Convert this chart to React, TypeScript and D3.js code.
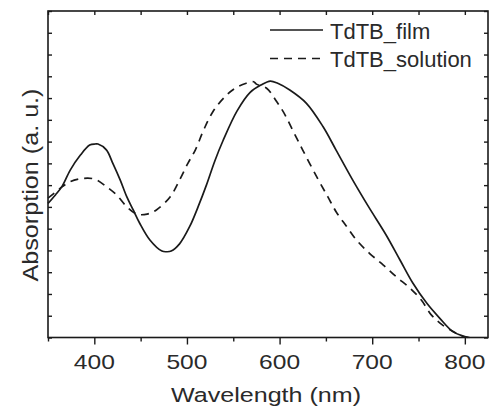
import React, { useRef, useEffect } from "react";
import * as d3 from "d3";

// TdTB_film (solid)
const filmWl = [350, 358, 365, 374, 385, 395, 401, 404, 413, 420, 428, 435, 442, 449, 460, 473, 478, 483, 492, 503, 512, 521, 530, 539, 554, 568, 580, 590, 598, 611, 629, 647, 661, 679, 696, 715, 730, 744, 759, 773, 787, 798, 805];
const filmAbs = [0.616, 0.655, 0.693, 0.769, 0.838, 0.884, 0.889, 0.889, 0.862, 0.8, 0.723, 0.647, 0.586, 0.525, 0.448, 0.397, 0.394, 0.397, 0.43, 0.51, 0.6, 0.7, 0.81, 0.905, 1.04, 1.125, 1.16, 1.178, 1.168, 1.137, 1.076, 0.968, 0.861, 0.723, 0.601, 0.471, 0.356, 0.249, 0.157, 0.088, 0.027, 0.007, 0];

// TdTB_solution (dashed)
const solWl = [350, 352, 363, 374, 388, 401, 413, 424, 435, 446, 457, 467, 482, 492, 501, 509, 518, 528, 541, 552, 564, 572, 575, 586, 597, 606, 615, 625, 640, 652, 661, 672, 683, 697, 712, 726, 741, 753, 764, 776, 791, 797, 803];
const solAbs = [0.641, 0.647, 0.685, 0.716, 0.731, 0.727, 0.693, 0.655, 0.601, 0.567, 0.567, 0.586, 0.647, 0.723, 0.8, 0.861, 0.953, 1.037, 1.106, 1.145, 1.168, 1.175, 1.164, 1.145, 1.083, 1.022, 0.945, 0.861, 0.739, 0.647, 0.578, 0.512, 0.448, 0.387, 0.333, 0.279, 0.226, 0.172, 0.103, 0.057, 0.019, 0.007, 0];

const xMajor = [400, 500, 600, 700, 800];
const xMinor = [350, 450, 550, 650, 750];
const xAll = [350, 400, 450, 500, 550, 600, 650, 700, 750, 800];
const yTicks = d3.range(0, 1.51, 0.1);

const legendItems = [
  { label: "TdTB_film", dash: "none" },
  { label: "TdTB_solution", dash: "8,6" },
];

const W = 489;
const H = 407;
const FONT = "'Liberation Sans', Arial, Helvetica, sans-serif";

export default function App() {
  const svgRef = useRef<SVGSVGElement | null>(null);

  useEffect(() => {
    if (!svgRef.current) return;
    const svg = d3.select(svgRef.current);
    svg.selectAll("*").remove();

    const left = 48;
    const right = 488;
    const top = 11;
    const bottom = 337.5;

    const x = d3.scaleLinear().domain([350, 825]).range([left, right]);
    const y = d3.scaleLinear().domain([0, 1.5]).range([bottom, top]);

    // frame
    svg
      .append("rect")
      .attr("x", left)
      .attr("y", top)
      .attr("width", right - left)
      .attr("height", bottom - top)
      .attr("fill", "none")
      .attr("stroke", "#1a1a1a")
      .attr("stroke-width", 1.6);

    const styleAxis = (g: any) => {
      g.select(".domain").remove();
      g.selectAll(".tick line").attr("stroke", "#1a1a1a").attr("stroke-width", 1.4);
      g.selectAll(".tick text").remove();
    };

    // bottom axis, outward ticks
    svg
      .append("g")
      .attr("transform", `translate(0,${bottom})`)
      .call(d3.axisBottom(x).tickValues(xMajor).tickSize(7))
      .call(styleAxis);
    svg
      .append("g")
      .attr("transform", `translate(0,${bottom})`)
      .call(d3.axisBottom(x).tickValues(xMinor).tickSize(4))
      .call(styleAxis);

    // top axis, inward ticks
    svg
      .append("g")
      .attr("transform", `translate(0,${top})`)
      .call(d3.axisTop(x).tickValues(xAll).tickSize(-4))
      .call(styleAxis);

    // left / right axes, inward ticks, no labels
    svg
      .append("g")
      .attr("transform", `translate(${left},0)`)
      .call(d3.axisLeft(y).tickValues(yTicks).tickSize(-4))
      .call(styleAxis);
    svg
      .append("g")
      .attr("transform", `translate(${right},0)`)
      .call(d3.axisRight(y).tickValues(yTicks).tickSize(-4))
      .call(styleAxis);

    // tick labels
    svg
      .append("g")
      .selectAll("text")
      .data(xMajor)
      .enter()
      .append("text")
      .attr("x", (d) => x(d))
      .attr("y", 369)
      .attr("text-anchor", "middle")
      .attr("font-family", FONT)
      .attr("font-size", 21)
      .attr("fill", "#2a2a2a")
      .attr("textLength", 41)
      .attr("lengthAdjust", "spacingAndGlyphs")
      .text((d) => String(d));

    // axis titles
    svg
      .append("text")
      .attr("x", 266)
      .attr("y", 402)
      .attr("text-anchor", "middle")
      .attr("font-family", FONT)
      .attr("font-size", 20.5)
      .attr("fill", "#2a2a2a")
      .attr("textLength", 190)
      .attr("lengthAdjust", "spacingAndGlyphs")
      .text("Wavelength (nm)");

    svg
      .append("text")
      .attr("transform", "translate(38,185) rotate(-90)")
      .attr("text-anchor", "middle")
      .attr("font-family", FONT)
      .attr("font-size", 22.5)
      .attr("fill", "#2a2a2a")
      .attr("textLength", 193)
      .attr("lengthAdjust", "spacingAndGlyphs")
      .text("Absorption (a. u.)");

    // curves
    const line = d3
      .line<[number, number]>()
      .x((d) => x(d[0]))
      .y((d) => y(d[1]))
      .curve(d3.curveCatmullRom.alpha(0.5));

    const film: [number, number][] = filmWl.map((w, i) => [w, filmAbs[i]]);
    const sol: [number, number][] = solWl.map((w, i) => [w, solAbs[i]]);

    svg
      .append("path")
      .datum(sol)
      .attr("d", line)
      .attr("fill", "none")
      .attr("stroke", "#1a1a1a")
      .attr("stroke-width", 1.7)
      .attr("stroke-dasharray", "8,6");

    svg
      .append("path")
      .datum(film)
      .attr("d", line)
      .attr("fill", "none")
      .attr("stroke", "#1a1a1a")
      .attr("stroke-width", 1.7);

    // legend
    const legend = svg.append("g");
    legendItems.forEach((item, i) => {
      const ly = 30 + i * 28.5;
      legend
        .append("line")
        .attr("x1", 270)
        .attr("x2", 323)
        .attr("y1", ly)
        .attr("y2", ly)
        .attr("stroke", "#1a1a1a")
        .attr("stroke-width", 1.7)
        .attr("stroke-dasharray", item.dash);
      legend
        .append("text")
        .attr("x", 330)
        .attr("y", ly + 8.5)
        .attr("font-family", FONT)
        .attr("font-size", 22)
        .attr("fill", "#2a2a2a")
        .text(item.label);
    });

    return () => {
      svg.selectAll("*").remove();
    };
  }, []);

  return (
    <svg
      ref={svgRef}
      width={W}
      height={H}
      style={{ position: "absolute", left: 0, top: 0, background: "#fff" }}
    />
  );
}
